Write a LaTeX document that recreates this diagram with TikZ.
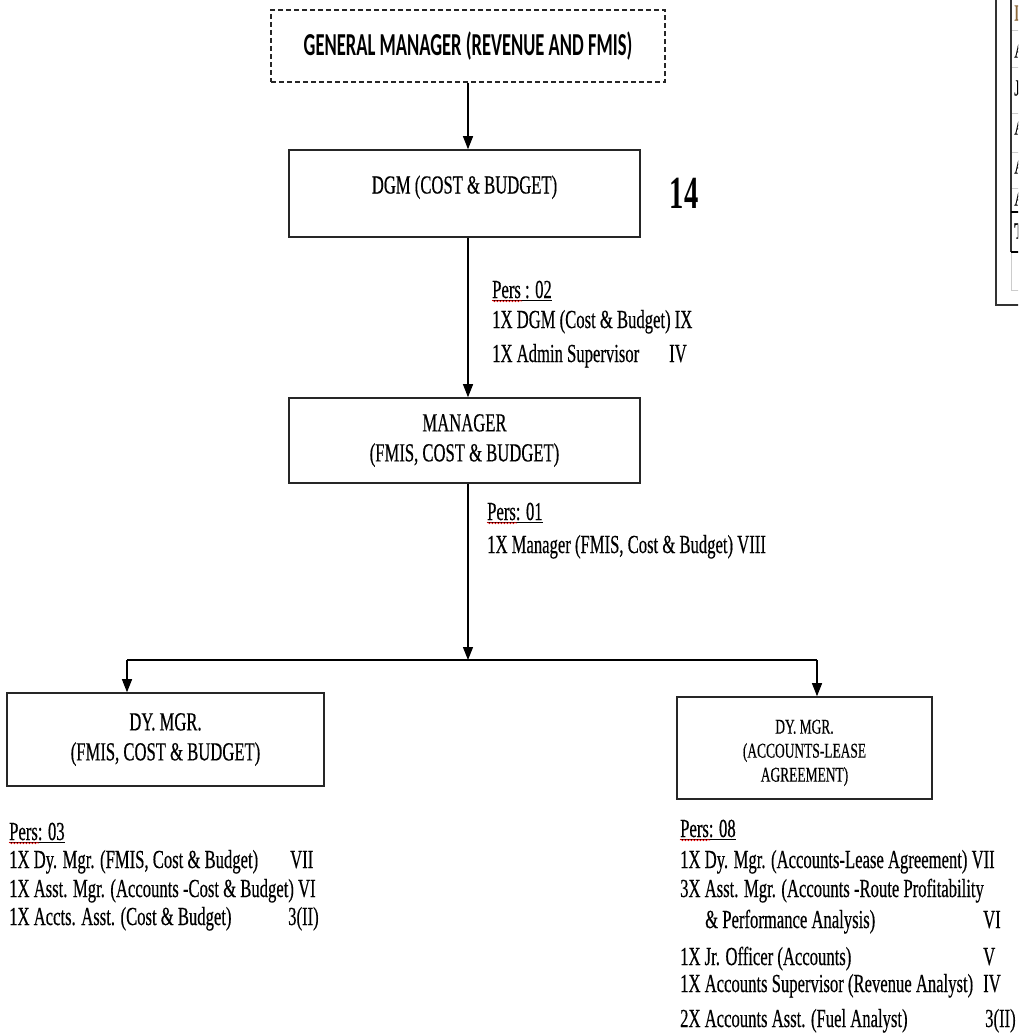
\documentclass[tikz,border=0pt]{standalone}
\usepackage{fontspec}
\setmainfont{Liberation Serif}
\newfontfamily\tnr[FakeStretch=0.64,FakeBold=0.4]{Liberation Serif}
\newfontfamily\gmfont[FakeStretch=0.58]{Carlito}
\newfontfamily\numfont[FakeStretch=0.62]{Liberation Serif}
\usetikzlibrary{arrows.meta,calc,decorations.pathmorphing}
\begin{document}
\begin{tikzpicture}[x=1pt,y=-1pt,
  box/.style={draw=black!85,line width=1.6pt,inner sep=0pt,align=center,font=\tnr\fontsize{26}{30}\selectfont},
  gmbox/.style={draw=black!85,dashed,dash pattern=on 5pt off 3pt,line width=1.1pt,inner sep=0pt,minimum width=394pt,minimum height=72pt,font=\gmfont\bfseries\fontsize{32}{36}\selectfont},
  arr/.style={line width=1.2pt,-{Triangle[length=13pt,width=10pt]}},
  txt/.style={anchor=base west,inner sep=0pt,font=\tnr\fontsize{26}{28}\selectfont},
  wavy/.style={draw=red!85!black,line width=0.6pt,decorate,decoration={snake,amplitude=0.8pt,segment length=3pt}},
  tl/.style={anchor=west,inner sep=0pt,font=\tnr\fontsize{23}{24}\selectfont},
  thinrule/.style={draw=black!20,line width=1pt},
]
\useasboundingbox (0,0) rectangle (1018,1036);
\fill[white] (0,0) rectangle (1018,1036);

% boxes
\node[gmbox] (gm) at (468,46) {GENERAL MANAGER (REVENUE AND FMIS)};
\node[box,minimum width=351pt,minimum height=87pt] (dgm) at (464.5,193.5) {\raisebox{0pt}[0pt][0pt]{DGM (COST \& BUDGET)}};
\node[inner sep=0pt,font=\numfont\bfseries\fontsize{46}{50}\selectfont] (n14) at (684,193) {14};
\node[box,minimum width=351pt,minimum height=85pt] (mgr) at (464.5,440.5) {MANAGER\\(FMIS, COST \& BUDGET)};
\node[box,minimum width=317pt,minimum height=93pt] (dl) at (165.5,739.5) {DY. MGR.\\(FMIS, COST \& BUDGET)};
\node[box,minimum width=255pt,minimum height=102pt,font=\tnr\fontsize{21}{24}\selectfont] (dr) at (804.5,748) {\raisebox{-10pt}[0pt][0pt]{\begin{tabular}{@{}c@{}}DY. MGR.\\(ACCOUNTS-LEASE\\AGREEMENT)\end{tabular}}};

% connectors
\draw[arr] (gm.south) -- (gm.south |- dgm.north);
\draw[arr] (gm.south |- dgm.south) -- (gm.south |- mgr.north);
\coordinate (jl) at (127,660);
\coordinate (jr) at (817,660);
\draw[arr] (gm.south |- mgr.south) -- (gm.south |- jl);
\draw[line width=1.8pt] (jl) -- (jr);
\draw[arr] (jl) -- (jl |- dl.north);
\draw[arr] (jr) -- (jr |- dr.north);

% Pers : 02
\node[txt] (p2) at (492,298) {\underline{Pers : 02}};
\node[txt] (p2a) at (492,328) {1X DGM (Cost \& Budget) IX};
\node[txt] (p2b) at (492,362) {1X Admin Supervisor};
\node[txt] (p2c) at (669,362) {IV};
\draw[wavy] ($(p2.base west)+(0,3)$) -- ++(30,0);

% Pers: 01
\node[txt] (p1) at (487,520) {\underline{Pers: 01}};
\node[txt] (p1a) at (487,553) {1X Manager (FMIS, Cost \& Budget) VIII};
\draw[wavy] ($(p1.base west)+(0,3)$) -- ++(30,0);

% Pers: 03
\node[txt] (p3) at (9,840) {\underline{Pers: 03}};
\node[txt] (p3a) at (9,868) {1X Dy. Mgr. (FMIS, Cost \& Budget)};
\node[txt] (p3ag) at (290,868) {VII};
\node[txt] (p3b) at (9,897) {1X Asst. Mgr. (Accounts -Cost \& Budget) VI};
\node[txt] (p3c) at (9,925) {1X Accts. Asst. (Cost \& Budget)};
\node[txt] (p3cg) at (288,925) {3(II)};
\draw[wavy] ($(p3.base west)+(0,3)$) -- ++(30,0);

% Pers: 08
\node[txt] (p8) at (680,837) {\underline{Pers: 08}};
\node[txt] (p8a) at (680,868) {1X Dy. Mgr. (Accounts-Lease Agreement) VII};
\node[txt] (p8b) at (680,897) {3X Asst. Mgr. (Accounts -Route Profitability};
\node[txt] (p8c) at (705,928) {\& Performance Analysis)};
\node[txt] (p8cg) at (983,928) {VI};
\node[txt] (p8d) at (680,965) {1X Jr. Officer (Accounts)};
\node[txt] (p8dg) at (983,965) {V};
\node[txt] (p8e) at (680,992) {1X Accounts Supervisor (Revenue Analyst)};
\node[txt] (p8eg) at (983,992) {IV};
\node[txt] (p8f) at (680,1027) {2X Accounts Asst. (Fuel Analyst)};
\node[txt] (p8fg) at (985,1027) {3(II)};
\draw[wavy] ($(p8.base west)+(0,3)$) -- ++(30,0);

% partial table at top right
\begin{scope}
\clip (990,-1) rectangle (1018,310);
\draw[draw=black!80,line width=1.5pt] (996,-2) -- (996,305) -- (1020,305);
\foreach \yy in {30,67,113,152,188,290} \draw[thinrule] (1011,\yy) -- (1020,\yy);
\draw[draw=black!20,line width=1pt] (1011,252) -- (1011,290);
\draw[draw=black!80,line width=1.5pt] (1011,-2) -- (1011,252);
\draw[line width=2pt] (1011,212) -- (1020,212);
\draw[line width=2.5pt] (1011,252) -- (1020,252);
\node[tl,text={rgb,255:red,140;green,105;blue,60}] (t1) at (1014,13) {D};
\node[tl] (t2) at (1014,50) {A};
\node[tl] (t3) at (1014,88) {J};
\node[tl] (t4) at (1014,127) {A};
\node[tl] (t5) at (1014,166) {A};
\node[tl] (t6) at (1014,198) {A};
\node[tl,font=\tnr\bfseries\fontsize{23}{24}\selectfont] (t7) at (1014,231) {T};
\end{scope}
\end{tikzpicture}
\end{document}
